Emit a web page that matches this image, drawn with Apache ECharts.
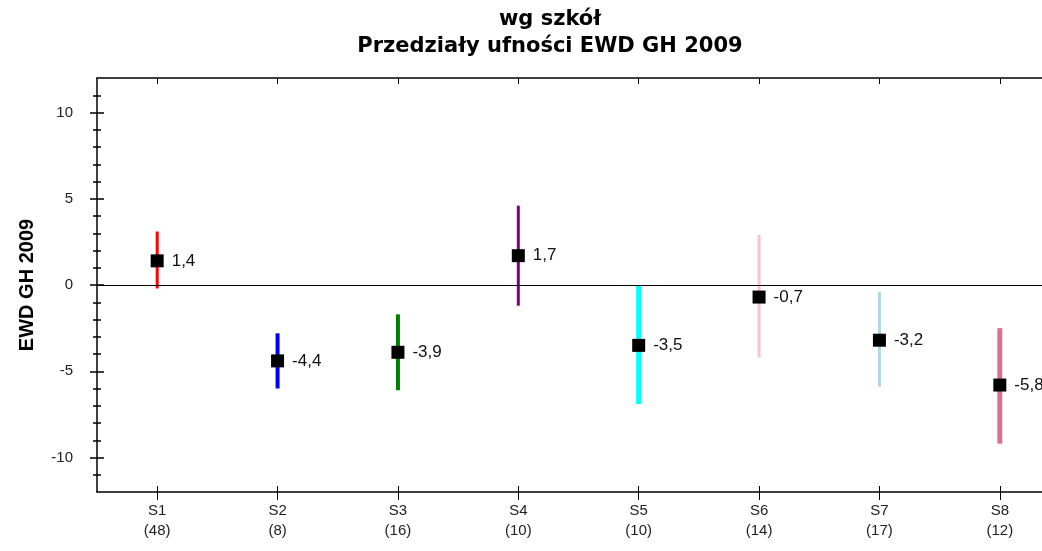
<!DOCTYPE html>
<html>
<head>
<meta charset="utf-8">
<script src="https://cdn.jsdelivr.net/npm/echarts@6/dist/echarts.min.js"></script>
<style>
  html, body { margin: 0; padding: 0; background: #fff; }
  #main { width: 1042px; height: 551px; }
</style>
</head>
<body>
<div id="main"></div>
<script>
var chartDom = document.getElementById('main');
var myChart = echarts.init(chartDom, null, { renderer: 'canvas' });

// data
const schools = ['S1', 'S2', 'S3', 'S4', 'S5', 'S6', 'S7', 'S8'];
const counts = [48, 8, 16, 10, 10, 14, 17, 12];
const ewd = [1.4, -4.4, -3.9, 1.7, -3.5, -0.7, -3.2, -5.8];
const lower = [-0.2, -6.0, -6.1, -1.2, -6.9, -4.2, -5.9, -9.2];
const upper = [3.1, -2.8, -1.7, 4.6, 0.0, 2.9, -0.4, -2.5];
const barColors = ['#ff0000', '#0000ff', '#008000', '#800080', '#00ffff', '#ffc0cb', '#add8e6', '#db7093'];
const barWidths = [3, 4, 4, 3, 5, 3, 3, 5];

// y ticks
const yMajor = [-10, -5, 0, 5, 10];
const yMinor = [-11, -9, -8, -7, -6, -4, -3, -2, -1, 1, 2, 3, 4, 6, 7, 8, 9, 11];

const catLabels = schools.map((s, i) => s + '\n(' + counts[i] + ')');
const fontFamily = 'Arial, "Liberation Sans", sans-serif';
const wideBold = '"DejaVu Sans", Verdana, sans-serif';

const grid = { left: 97, top: 78, width: 963, height: 414, outerBoundsMode: 'none' };

const axisLine = { show: true, onZero: false, lineStyle: { color: '#000', width: 1.5 } };
const tickStyle = { color: '#000', width: 1.5 };

function yTickAxis(values, len, inside) {
    return {
        type: 'value',
        min: -12,
        max: 12,
        position: 'left',
        axisLine: { show: false },
        axisTick: { show: true, inside, length: len, customValues: values, lineStyle: tickStyle },
        axisLabel: { show: false },
        splitLine: { show: false }
    };
}

var option = {
    animation: false,
    title: {
        text: 'wg szkół\nPrzedziały ufności EWD GH 2009',
        left: 545,
        top: 1,
        textAlign: 'center',
        textStyle: {
            fontFamily: wideBold,
            fontSize: 21,
            fontWeight: 'bold',
            color: '#000',
            lineHeight: 27
        }
    },
    grid,
    xAxis: [
        {
            type: 'category',
            data: catLabels,
            position: 'bottom',
            axisLine,
            axisTick: { show: true, alignWithLabel: true, length: 8, lineStyle: { color: '#000', width: 1 } },
            axisLabel: { fontFamily, fontSize: 15, color: '#222', lineHeight: 20, margin: 9 },
            splitLine: { show: false }
        },
        {
            type: 'category',
            data: catLabels,
            position: 'top',
            axisLine,
            axisTick: { show: true, alignWithLabel: true, inside: true, length: 6, lineStyle: { color: '#000', width: 1 } },
            axisLabel: { show: false },
            splitLine: { show: false }
        },
        {
            // inward half of the crossing ticks at the bottom
            type: 'category',
            data: catLabels,
            position: 'bottom',
            offset: -6,
            axisLine: { show: false, onZero: false },
            axisTick: { show: true, alignWithLabel: true, length: 6, lineStyle: { color: '#000', width: 1 } },
            axisLabel: { show: true, color: 'transparent', fontSize: 1 },
            splitLine: { show: false }
        }
    ],
    yAxis: [
        {
            type: 'value',
            min: -12,
            max: 12,
            position: 'left',
            name: 'EWD GH 2009',
            nameLocation: 'middle',
            nameGap: 60,
            nameTextStyle: { fontFamily, fontSize: 20, fontWeight: 'bold', color: '#000' },
            axisLine,
            axisTick: { show: true, length: 7, customValues: yMajor, lineStyle: tickStyle },
            axisLabel: { fontFamily, fontSize: 15, color: '#222', margin: 24, customValues: yMajor },
            splitLine: { show: false }
        },
        yTickAxis(yMajor, 7, true),
        yTickAxis(yMinor, 4, false),
        yTickAxis(yMinor, 4, true)
    ],
    series: [
        {
            type: 'custom',
            name: 'przedział',
            xAxisIndex: 0,
            yAxisIndex: 0,
            data: schools.map((s, i) => [i, lower[i], upper[i]]),
            renderItem: function (params, api) {
                const i = api.value(0);
                const lo = api.coord([i, api.value(1)]);
                const hi = api.coord([i, api.value(2)]);
                return {
                    type: 'line',
                    shape: { x1: lo[0], y1: lo[1], x2: hi[0], y2: hi[1] },
                    style: { stroke: barColors[params.dataIndex], lineWidth: barWidths[params.dataIndex] }
                };
            },
            z: 2
        },
        {
            type: 'scatter',
            name: 'EWD',
            xAxisIndex: 0,
            yAxisIndex: 0,
            data: ewd.map((v, i) => [i, v]),
            symbol: 'rect',
            symbolSize: 13,
            itemStyle: { color: '#000', opacity: 1 },
            label: {
                show: true,
                position: 'right',
                distance: 8,
                fontFamily,
                fontSize: 17,
                color: '#111',
                formatter: p => p.value[1].toFixed(1).replace('.', ',')
            },
            markLine: {
                silent: true,
                symbol: 'none',
                label: { show: false },
                lineStyle: { color: '#000', width: 1.2, type: 'solid' },
                data: [{ yAxis: 0 }]
            },
            z: 3
        }
    ]
};

option && myChart.setOption(option);
</script>
</body>
</html>
